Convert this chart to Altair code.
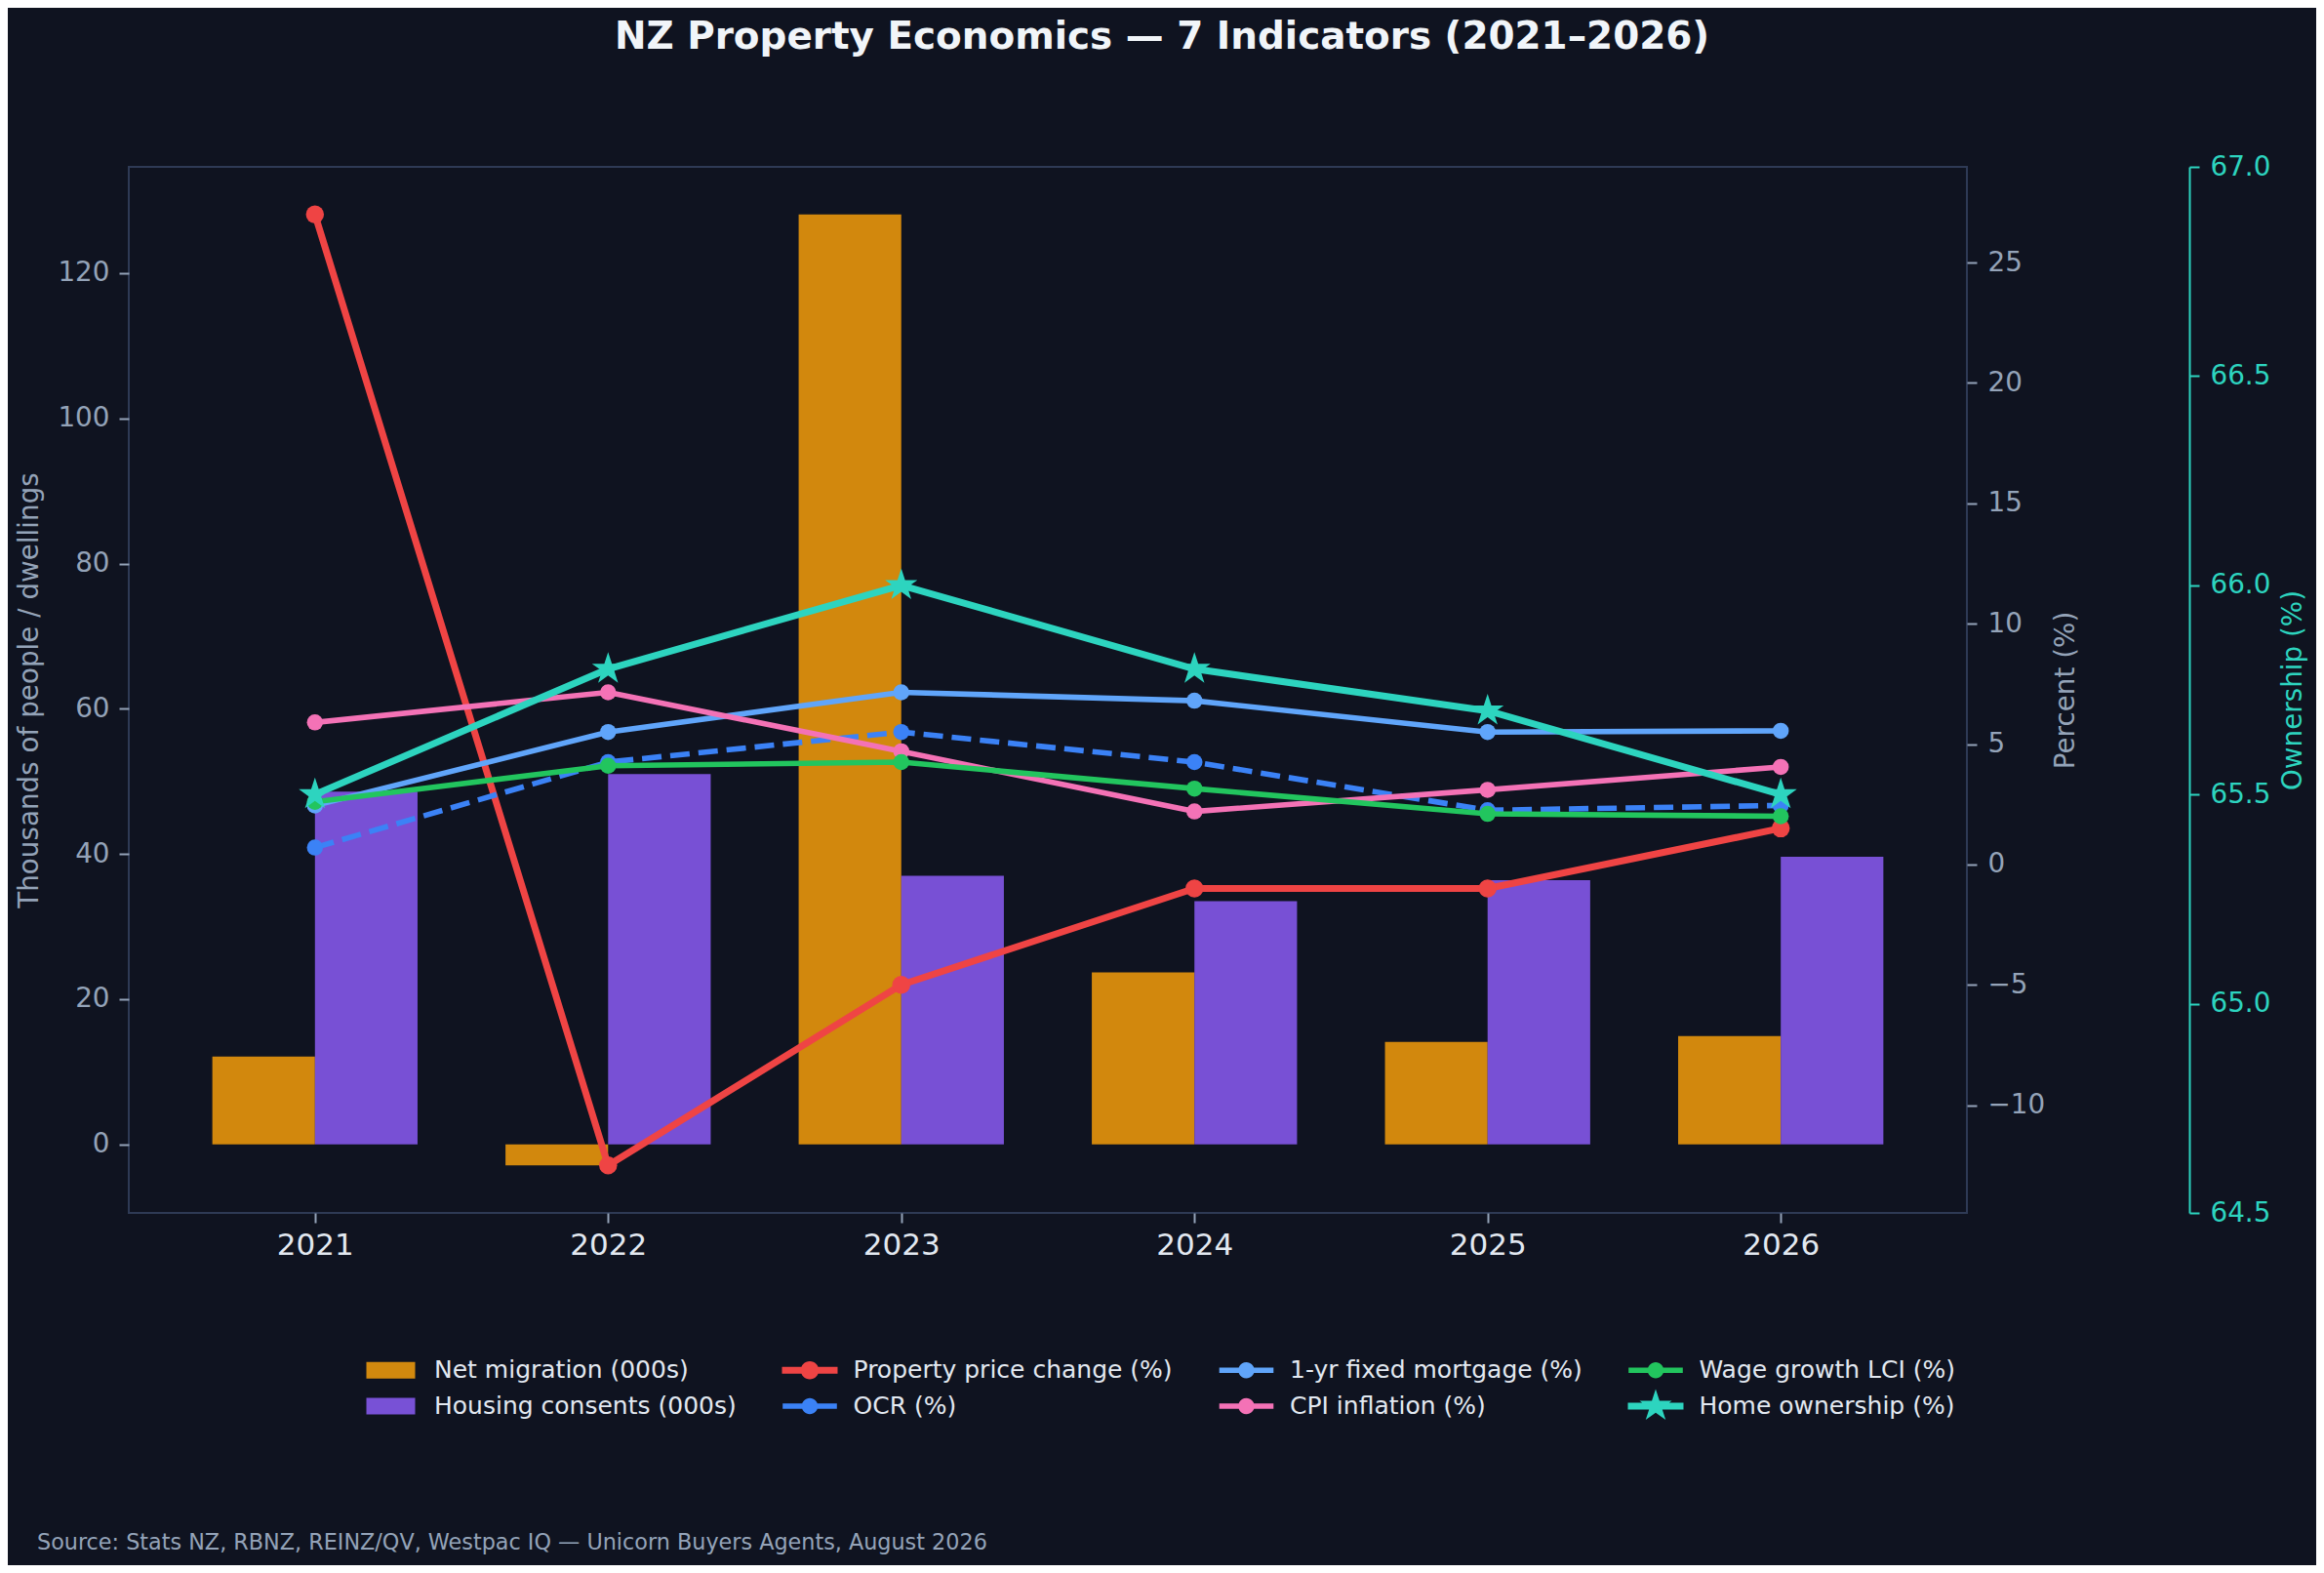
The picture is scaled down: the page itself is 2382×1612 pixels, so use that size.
import math
import altair as alt
import pandas as pd

# ---------------- data ----------------
years = [2021, 2022, 2023, 2024, 2025, 2026]
net_migration = [12.1, -2.9, 128.1, 23.7, 14.1, 14.9]          # 000s
housing_consents = [48.6, 51.0, 37.0, 33.5, 36.4, 39.6]        # 000s
property_change = [27.0, -12.5, -5.0, -1.0, -1.0, 1.5]         # %
ocr_rate = [0.7, 4.25, 5.5, 4.25, 2.25, 2.45]                  # %
mortgage_1yr = [2.45, 5.5, 7.15, 6.8, 5.5, 5.55]               # %
cpi_inflation = [5.9, 7.15, 4.7, 2.2, 3.1, 4.05]               # %
wage_growth = [2.6, 4.1, 4.25, 3.15, 2.1, 2.0]                 # %
home_ownership = [65.5, 65.8, 66.0, 65.8, 65.7, 65.5]          # %

left_ticks = [0, 20, 40, 60, 80, 100, 120]
pct_ticks = [-10, -5, 0, 5, 10, 15, 20, 25]
own_ticks = [64.5, 65.0, 65.5, 66.0, 66.5, 67.0]
own_limits = [64.5, 67.0]

NET = "Net migration (000s)"
HOUS = "Housing consents (000s)"
PROP = "Property price change (%)"
OCR = "OCR (%)"
MORT = "1-yr fixed mortgage (%)"
CPI = "CPI inflation (%)"
WAGE = "Wage growth LCI (%)"
OWN = "Home ownership (%)"

TITLE = "NZ Property Economics \u2014 7 Indicators (2021\u20132026)"
SOURCE = "Source: Stats NZ, RBNZ, REINZ/QV, Westpac IQ \u2014 Unicorn Buyers Agents, August 2026"

# ---------------- style ----------------
FONT = "DejaVu Sans"
BG = "#0f1320"
FRAME = "#2e3a55"
GREY = "#94a3b8"
WHITE = "#e2e8f0"
TITLE_C = "#f1f5f9"
TEAL = "#2dd4bf"
AMBER = "#f59e0b"
VIOLET = "#8b5cf6"
BAR_ALPHA = 0.85
BAR_W = 0.35

W, H = 1884, 1072
PAD = {"left": 124, "top": 163, "right": 358, "bottom": 361}

LAB = 27.8
XLAB = 31
LEG = 25


def blend(hex_c, alpha, bg=BG):
    c = [int(hex_c[i:i + 2], 16) for i in (1, 3, 5)]
    b = [int(bg[i:i + 2], 16) for i in (1, 3, 5)]
    m = [round(alpha * a + (1 - alpha) * z) for a, z in zip(c, b)]
    return "#%02x%02x%02x" % tuple(m)


def rect_path(hw, hh):
    return f"M{-hw:.3f},{-hh:.3f}H{hw:.3f}V{hh:.3f}H{-hw:.3f}Z"


def circle_path(r):
    return f"M{r:.3f},0A{r:.3f},{r:.3f} 0 1,1 {-r:.3f},0A{r:.3f},{r:.3f} 0 1,1 {r:.3f},0Z"


def star_path(R, inner=0.381966):
    pts = []
    for i in range(10):
        r = R if i % 2 == 0 else R * inner
        th = math.radians(i * 36)
        pts.append((r * math.sin(th), -r * math.cos(th)))
    return "M" + "L".join(f"{x:.4f},{y:.4f}" for x, y in pts) + "Z"


# percent-axis series: name, values, colour, line width, dash, marker diameter
pct_series = [
    (PROP, property_change, "#ef4444", 7.0, None, 18.5),
    (OCR, ocr_rate, "#3b82f6", 5.6, [20, 9], 16.5),
    (MORT, mortgage_1yr, "#60a5fa", 5.6, None, 16.5),
    (CPI, cpi_inflation, "#f472b6", 5.6, None, 16.5),
    (WAGE, wage_growth, "#22c55e", 5.6, None, 16.5),
]
OWN_W = 7.0
STAR_R = 17.4

# ---------------- domains (matplotlib-like 5% margins) ----------------
x_lo, x_hi = years[0] - BAR_W, years[-1] + BAR_W
x_pad = 0.05 * (x_hi - x_lo)
x_domain = [x_lo - x_pad, x_hi + x_pad]

b_all = net_migration + housing_consents + [0]
b_pad = 0.05 * (max(b_all) - min(b_all))
left_domain = [min(b_all) - b_pad, max(b_all) + b_pad]

p_all = [v for s in pct_series for v in s[1]]
p_pad = 0.05 * (max(p_all) - min(p_all))
pct_domain = [min(p_all) - p_pad, max(p_all) + p_pad]

# ---------------- tables ----------------
bars_df = pd.DataFrame({"year": years, "net": net_migration, "housing": housing_consents})
rows = []
for name, vals, *_ in pct_series:
    for y, v in zip(years, vals):
        rows.append({"year": y, "series": name, "value": v})
pct_df = pd.DataFrame(rows)
own_df = pd.DataFrame({"year": years, "own": home_ownership})

# ---------------- scales & axes ----------------
x_scale = alt.Scale(domain=x_domain, nice=False, zero=False)
x_axis = alt.Axis(values=years, format="d", title=None, labelColor=WHITE, labelFontSize=XLAB,
                  labelFont=FONT, tickColor=GREY, tickSize=10, tickWidth=2, labelPadding=8,
                  domain=False, grid=False, labelFlush=False)

left_scale = alt.Scale(domain=left_domain, nice=False, zero=False)
left_axis = alt.Axis(orient="left", values=left_ticks, format="d",
                     title="Thousands of people / dwellings", titleColor=GREY, titleFontSize=LAB,
                     titleFontWeight="normal", titleFont=FONT, titlePadding=14,
                     labelColor=GREY, labelFontSize=LAB, labelFont=FONT, labelPadding=10,
                     tickColor=GREY, tickSize=10, tickWidth=2, domain=False, grid=False)

pct_scale = alt.Scale(domain=pct_domain, nice=False, zero=False)
pct_axis = alt.Axis(orient="right", values=pct_ticks, format="d",
                    title="Percent (%)", titleColor=GREY, titleFontSize=LAB, titleFontWeight="normal",
                    titleFont=FONT, titleAngle=270, titleBaseline="top", titlePadding=8,
                    labelColor=GREY, labelFontSize=LAB, labelFont=FONT, labelPadding=11,
                    tickColor=GREY, tickSize=10, tickWidth=2, domain=False, grid=False)

own_scale = alt.Scale(domain=own_limits, nice=False, zero=False)
own_axis = alt.Axis(orient="right", offset=228, values=own_ticks, format=".1f",
                    title="Ownership (%)", titleColor=TEAL, titleFontSize=LAB, titleFontWeight="normal",
                    titleFont=FONT, titleAngle=270, titleBaseline="top", titlePadding=10,
                    labelColor=TEAL, labelFontSize=LAB, labelFont=FONT, labelPadding=11,
                    tickColor=TEAL, tickSize=10, tickWidth=2,
                    domain=True, domainColor=TEAL, domainWidth=2, grid=False)

# ---------------- bars (left axis) ----------------
net_bar = alt.Chart(bars_df).transform_calculate(
    x0=f"datum.year - {BAR_W}"
).mark_rect(color=AMBER, opacity=BAR_ALPHA).encode(
    x=alt.X("x0:Q", scale=x_scale, axis=x_axis),
    x2="year:Q",
    y=alt.Y("net:Q", scale=left_scale, axis=left_axis),
    y2=alt.datum(0),
)
hous_bar = alt.Chart(bars_df).transform_calculate(
    x1=f"datum.year + {BAR_W}"
).mark_rect(color=VIOLET, opacity=BAR_ALPHA).encode(
    x=alt.X("year:Q", scale=x_scale, axis=x_axis),
    x2="x1:Q",
    y=alt.Y("housing:Q", scale=left_scale, axis=left_axis),
    y2=alt.datum(0),
)
bars_group = alt.layer(net_bar, hous_bar)

# ---------------- percent lines (right axis) ----------------
pct_layers = []
for name, vals, col, lw, dash, md in pct_series:
    base = alt.Chart(pct_df).transform_filter(alt.datum.series == name)
    line_kw = dict(color=col, strokeWidth=lw, strokeJoin="round")
    if dash:
        line_kw["strokeDash"] = dash
        line_kw["strokeCap"] = "butt"
    else:
        line_kw["strokeCap"] = "square"
    enc = dict(x=alt.X("year:Q", scale=x_scale, axis=x_axis),
               y=alt.Y("value:Q", scale=pct_scale, axis=pct_axis))
    pct_layers.append(base.mark_line(**line_kw).encode(**enc))
    pct_layers.append(base.mark_circle(color=col, size=md * md, opacity=1).encode(**enc))
pct_group = alt.layer(*pct_layers)

# ---------------- home ownership (third axis) ----------------
own_enc = dict(x=alt.X("year:Q", scale=x_scale, axis=x_axis),
               y=alt.Y("own:Q", scale=own_scale, axis=own_axis))
own_line = alt.Chart(own_df).mark_line(color=TEAL, strokeWidth=OWN_W, strokeJoin="round",
                                       strokeCap="square").encode(**own_enc)
own_pts = alt.Chart(own_df).mark_point(shape=star_path(1.0), size=(2 * STAR_R) ** 2, filled=True,
                                       color=TEAL, opacity=1).encode(**own_enc)
own_group = alt.layer(own_line, own_pts)

# ---------------- legend (4 columns x 2 rows, filled down the columns) ----------------
SYM = 10.0  # px per path unit with symbolSize 400
legend_order = [NET, HOUS, PROP, OCR, MORT, CPI, WAGE, OWN]
style_of = {s[0]: s for s in pct_series}
legend_colors, legend_shapes = [], []
for name in legend_order:
    if name == NET:
        legend_colors.append(blend(AMBER, BAR_ALPHA))
        legend_shapes.append(rect_path(25 / SYM, 8.4 / SYM))
    elif name == HOUS:
        legend_colors.append(blend(VIOLET, BAR_ALPHA))
        legend_shapes.append(rect_path(25 / SYM, 8.4 / SYM))
    elif name == OWN:
        legend_colors.append(TEAL)
        legend_shapes.append(rect_path((25 + OWN_W / 2) / SYM, OWN_W / 2 / SYM) + star_path(STAR_R / SYM))
    else:
        _, _, col, lw, _, md = style_of[name]
        legend_colors.append(col)
        legend_shapes.append(rect_path((25 + lw / 2) / SYM, lw / 2 / SYM) + circle_path(md / 2 / SYM))

leg = alt.Legend(orient="none", legendX=256, legendY=1220.5, columns=4, title=None,
                 labelFontSize=LEG, labelColor=WHITE, labelFont=FONT, labelLimit=2000,
                 symbolSize=400, symbolStrokeWidth=0, symbolOpacity=1, labelOffset=32,
                 rowPadding=6, columnPadding=46.5, padding=0)
legend_df = pd.DataFrame({"series": legend_order})
legend_layer = alt.Chart(legend_df).mark_point(filled=True, opacity=0, size=400).encode(
    color=alt.Color("series:N", scale=alt.Scale(domain=legend_order, range=legend_colors), legend=leg),
    shape=alt.Shape("series:N", scale=alt.Scale(domain=legend_order, range=legend_shapes), legend=leg),
)

# ---------------- source note ----------------
source_layer = alt.Chart(pd.DataFrame({"note": [SOURCE]})).mark_text(
    align="left", baseline="alphabetic", fontSize=22.3, color=GREY, font=FONT
).encode(text="note:N", x=alt.value(-94), y=alt.value(1417))

chart = alt.layer(bars_group, pct_group, own_group, legend_layer, source_layer).resolve_scale(
    y="independent", color="independent", shape="independent"
).properties(
    width=W, height=H,
    padding=PAD,
    autosize=alt.AutoSizeParams(type="none"),
    title=alt.TitleParams(TITLE, fontSize=38.9, fontWeight="bold", color=TITLE_C, font=FONT,
                          anchor="middle", frame="group", dx=117, offset=68, baseline="alphabetic"),
).configure(background=BG, font=FONT).configure_view(stroke=FRAME, strokeWidth=2, fill=BG)

chart.save("out.html", embed_options={"renderer": "svg", "actions": False})
